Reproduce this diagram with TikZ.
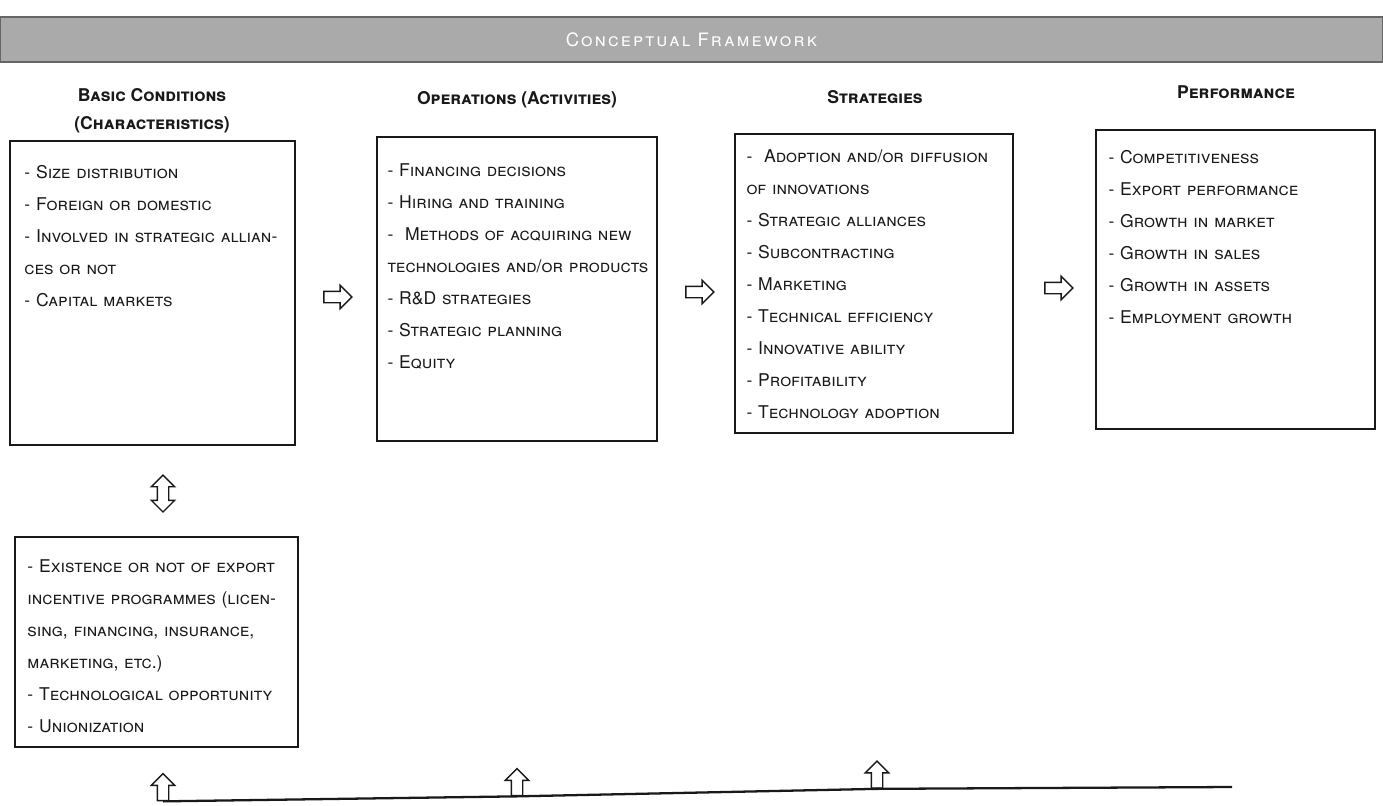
\documentclass[tikz,border=0pt]{standalone}
\usepackage{fontspec}
\setmainfont{TeX Gyre Heros}
\usetikzlibrary{shapes,arrows,positioning}

\definecolor{barfill}{RGB}{170,170,170}
\definecolor{ink}{RGB}{25,25,25}
\newcommand{\fullline}[1]{\makebox[5.16cm][s]{#1}}

\begin{document}
\begin{tikzpicture}[x=0.02cm,y=-0.02cm]
\tikzstyle{every node}=[font=\scshape\fontsize{10}{18.2}\selectfont, text=ink]
\tikzstyle{box}=[rectangle, draw=ink, line width=1pt, inner sep=0pt]
\tikzstyle{items}=[align=left, text width=5.16cm, inner sep=0pt]
\tikzstyle{head}=[align=center, font=\scshape\bfseries\fontsize{10}{16}\selectfont]
\tikzstyle{bar}=[rectangle, fill=barfill, draw=black!60, line width=0.6pt,
                 minimum width=27.66cm, minimum height=0.9cm, text=white,
                 font=\scshape\addfontfeature{LetterSpace=12}\fontsize{10.5}{12}\selectfont]
\tikzstyle{flow}=[single arrow, draw=ink, line width=0.8pt, fill=white,
                  inner xsep=0pt, inner ysep=0.1cm, minimum height=0.56cm,
                  single arrow head extend=0.12cm]
\tikzstyle{lift}=[flow, shape border rotate=90, inner xsep=0.1cm, inner ysep=0pt,
                  minimum height=0.54cm]
\tikzstyle{both}=[double arrow, draw=ink, line width=0.8pt, fill=white,
                  inner xsep=0.1cm, inner ysep=0pt, minimum height=0.74cm,
                  double arrow head extend=0.12cm, shape border rotate=90]

\useasboundingbox (0,0) rectangle (1383,805);

% title bar and column heads
\node[bar] (title) at (691.5,39.5) {Conceptual Framework};
\node[head] (hbc) at (152,111) {Basic Conditions\\(Characteristics)};
\node[head] (hop) at (517,100) {Operations (Activities)};
\node[head] (hst) at (875,97) {Strategies};
\node[head] (hpf) at (1236,92) {Performance};

% boxes
\node[box, minimum width=5.7cm, minimum height=6.08cm] (bc) at (152.5,293) {};
\node[box, minimum width=5.6cm, minimum height=6.08cm] (op) at (517,289) {};
\node[box, minimum width=5.56cm, minimum height=5.98cm] (st) at (874,283.5) {};
\node[box, minimum width=5.58cm, minimum height=5.98cm] (pf) at (1235.5,279.5) {};
\node[box, minimum width=5.66cm, minimum height=4.2cm] (ex) at (156.5,642) {};

\node[items, below right=0.49cm and 0.3cm of bc.north west] (bctext)
  {- Size distribution\\
   - Foreign or domestic\\
   \fullline{- Involved in strategic allian-}\\
   ces or not\\
   - Capital markets};
\node[items, below right=0.55cm and 0.22cm of op.north west] (optext)
  {- Financing decisions\\
   - Hiring and training\\
   \fullline{- \ Methods of acquiring new}\\
   \fullline{technologies and/or products}\\
   - R\&D strategies\\
   - Strategic planning\\
   - Equity};
\node[items, below right=0.33cm and 0.24cm of st.north west] (sttext)
  {\fullline{- \ Adoption and/or diffusion}\\
   of innovations\\
   - Strategic alliances\\
   - Subcontracting\\
   - Marketing\\
   - Technical efficiency\\
   - Innovative ability\\
   - Profitability\\
   - Technology adoption};
\node[items, below right=0.41cm and 0.26cm of pf.north west] (pftext)
  {- Competitiveness\\
   - Export performance\\
   - Growth in market\\
   - Growth in sales\\
   - Growth in assets\\
   - Employment growth};
\node[items, below right=0.47cm and 0.26cm of ex.north west] (extext)
  {\fullline{- Existence or not of export}\\
   \fullline{incentive programmes (licen-}\\
   \fullline{sing, financing, insurance,}\\
   marketing, etc.)\\
   - Technological opportunity\\
   - Unionization};

% arrows between the boxes
\node[flow] (a1) at (335,297) {};
\node[flow] (a2) at (697,292) {};
\node[flow] (a3) at (1056,288) {};
\node[both] (a4) at (163,493.5) {};

% arrows on the base line
\node[lift] (u1) at (163,790) {};
\node[lift] (u2) at (517,785) {};
\node[lift] (u3) at (877,777.5) {};
\coordinate (baseend) at (1232,787);
\draw[ink, line width=1.3pt] (u1.south) -- (u2.south) -- (u3.south) -- (baseend);

\end{tikzpicture}
\end{document}
